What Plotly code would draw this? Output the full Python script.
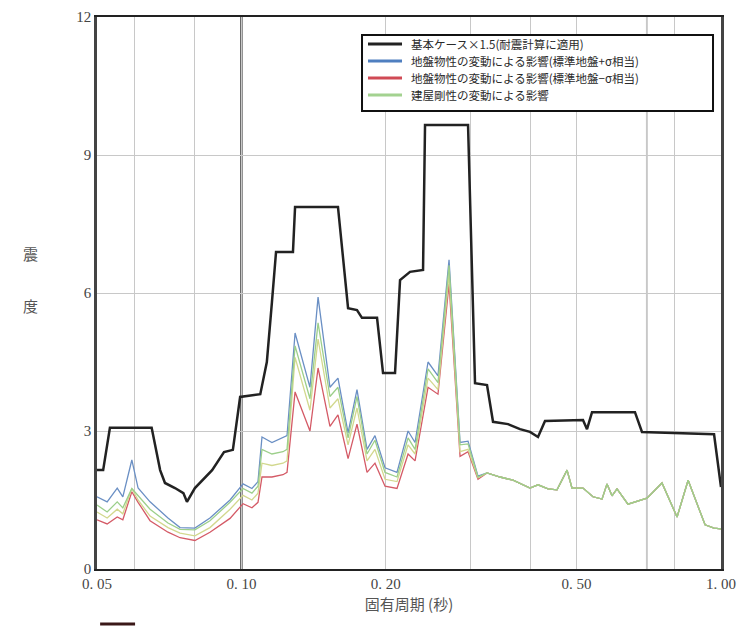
import plotly.graph_objects as go

# ---- data ----
period_base = [0.0500, 0.0515, 0.0532, 0.0650, 0.0677, 0.0693, 0.0727, 0.0757, 0.0770, 0.0800,
               0.0869, 0.0920, 0.0960, 0.0994, 0.1095, 0.1130, 0.1158, 0.1181, 0.1281, 0.1294,
               0.1590, 0.1669, 0.1742, 0.1784, 0.1918, 0.1974, 0.2091, 0.2142, 0.2247, 0.2392,
               0.2415, 0.2969, 0.3070, 0.3252, 0.3347, 0.3597, 0.3810, 0.3997, 0.4154, 0.4296,
               0.5155, 0.5256, 0.5384, 0.6616, 0.6843, 0.7943, 0.9672, 1.0000]
base_case = [2.15, 2.15, 3.07, 3.07, 2.15, 1.87, 1.76, 1.65, 1.46, 1.76,
             2.15, 2.54, 2.59, 3.74, 3.80, 4.50, 5.80, 6.89, 6.89, 7.87,
             7.87, 5.67, 5.63, 5.46, 5.46, 4.26, 4.26, 6.28, 6.46, 6.50,
             9.65, 9.65, 4.04, 4.00, 3.20, 3.15, 3.04, 2.98, 2.87, 3.22,
             3.24, 3.04, 3.41, 3.41, 2.98, 2.96, 2.93, 1.78]

period_var = [0.0500, 0.0525, 0.0551, 0.0566, 0.0591, 0.0609, 0.0645, 0.0703, 0.0745, 0.0800,
              0.0860, 0.0947, 0.1008, 0.1052, 0.1083, 0.1104, 0.1158, 0.1221, 0.1245, 0.1294,
              0.1390, 0.1445, 0.1530, 0.1590, 0.1669, 0.1742, 0.1828, 0.1899, 0.1993, 0.2111,
              0.2226, 0.2302, 0.2450, 0.2570, 0.2710, 0.2857, 0.2969, 0.3114,
              0.3252, 0.3462, 0.3685, 0.3997, 0.4154, 0.4359, 0.4551, 0.4775, 0.4890, 0.5155,
              0.5409, 0.5649, 0.5786, 0.5926, 0.6070, 0.6397, 0.7009, 0.7533, 0.8098, 0.8540,
              0.9263, 0.9672, 1.0000]
tail = [2.09, 2.00, 1.93, 1.76, 1.83, 1.74, 1.72, 2.15, 1.76, 1.76,
        1.57, 1.52, 1.85, 1.59, 1.74, 1.41, 1.54, 1.87, 1.13, 1.93,
        0.96, 0.89, 0.87]
soil_plus = [1.57, 1.46, 1.76, 1.57, 2.37, 1.76, 1.46, 1.11, 0.90, 0.89,
             1.11, 1.50, 1.85, 1.75, 1.90, 2.87, 2.75, 2.85, 2.90, 5.13,
             3.95, 5.91, 3.95, 4.15, 2.96, 3.90, 2.60, 2.90, 2.20, 2.10,
             3.00, 2.75, 4.50, 4.20, 6.72, 2.75, 2.78, 2.02] + tail
soil_minus = [1.07, 0.98, 1.13, 1.07, 1.68, 1.45, 1.05, 0.80, 0.68, 0.62,
              0.80, 1.10, 1.42, 1.33, 1.45, 2.00, 2.00, 2.05, 2.10, 3.85,
              3.00, 4.37, 3.10, 3.35, 2.40, 3.15, 2.10, 2.30, 1.80, 1.75,
              2.50, 2.35, 3.95, 3.80, 6.20, 2.45, 2.55, 1.95] + tail
stiff_a = [1.39, 1.24, 1.46, 1.33, 1.75, 1.60, 1.30, 1.00, 0.86, 0.85,
           1.05, 1.45, 1.75, 1.65, 1.80, 2.60, 2.50, 2.55, 2.60, 4.85,
           3.70, 5.35, 3.75, 3.95, 2.85, 3.75, 2.50, 2.80, 2.10, 2.00,
           2.85, 2.60, 4.35, 4.05, 6.60, 2.70, 2.72, 2.00] + tail
stiff_b = [1.24, 1.11, 1.30, 1.20, 1.75, 1.50, 1.15, 0.90, 0.78, 0.72,
           0.90, 1.30, 1.60, 1.50, 1.65, 2.30, 2.25, 2.30, 2.35, 4.60,
           3.45, 5.00, 3.50, 3.70, 2.70, 3.50, 2.35, 2.60, 1.95, 1.90,
           2.70, 2.50, 4.15, 3.90, 6.40, 2.55, 2.60, 1.98] + tail

x_tick_vals = [0.05, 0.1, 0.2, 0.5, 1.0]
x_tick_text = ["0. 05", "0. 10", "0. 20", "0. 50", "1. 00"]
x_minor_vals = [0.06, 0.08, 0.3, 0.4, 0.7, 0.8]
y_tick_vals = [0, 3, 6, 9, 12]

names = ["基本ケース×1.5(耐震計算に適用)",
         "地盤物性の変動による影響(標準地盤+σ相当)",
         "地盤物性の変動による影響(標準地盤−σ相当)",
         "建屋剛性の変動による影響"]
colors = ["#222222", "#4f7fc0", "#d04a55", "#a3d290"]

fig = go.Figure()
fig.add_trace(go.Scatter(x=period_var, y=soil_plus, mode="lines", name=names[1],
                         line=dict(color="#6a8fc4", width=1.3)))
fig.add_trace(go.Scatter(x=period_var, y=soil_minus, mode="lines", name=names[2],
                         line=dict(color="#d45a66", width=1.3)))
fig.add_trace(go.Scatter(x=period_var, y=stiff_b, mode="lines", name=names[3] + " (2)",
                         line=dict(color="#d2d88e", width=1.3)))
fig.add_trace(go.Scatter(x=period_var, y=stiff_a, mode="lines", name=names[3],
                         line=dict(color="#9ccf8a", width=1.3)))
fig.add_trace(go.Scatter(x=period_base, y=base_case, mode="lines", name=names[0],
                         line=dict(color="#222222", width=2.5)))

# darker reference lines
fig.add_vline(x=0.1, line=dict(color="#555555", width=2.5), layer="below")
fig.add_vline(x=0.7, line=dict(color="#999999", width=1.5), layer="below")

# stray short mark at bottom left
fig.add_shape(type="line", xref="paper", yref="paper", x0=0.005, x1=0.061,
              y0=-0.0996, y1=-0.0996, line=dict(color="#3a1818", width=3))

serif = "Liberation Serif, DejaVu Serif, serif"
cjk = "Noto Sans CJK JP"

# ---- legend box (drawn) ----
fig.add_shape(type="rect", xref="paper", yref="paper", x0=0.4247, x1=0.9872,
              y0=0.8297, y1=0.9674, line=dict(color="#111111", width=2),
              fillcolor="white", layer="above")
row_y = [0.9511, 0.9203, 0.8895, 0.8587]
for nm, col, yy in zip(names, colors, row_y):
    fig.add_shape(type="line", xref="paper", yref="paper", x0=0.4343, x1=0.4888,
                  y0=yy, y1=yy, line=dict(color=col, width=3), layer="above")
    fig.add_annotation(text=nm, xref="paper", yref="paper", x=0.5016, y=yy,
                       xanchor="left", yanchor="middle", showarrow=False, borderpad=0,
                       font=dict(family=cjk, size=11.5, color="#2a2a2a"))

fig.update_layout(
    width=740, height=633,
    margin=dict(l=97, r=19, t=17, b=64),
    paper_bgcolor="white", plot_bgcolor="white",
    showlegend=False,
    xaxis=dict(type="log", range=[-1.30103, 0], automargin=False,
               tickvals=x_tick_vals, ticktext=x_tick_text,
               tickfont=dict(family=serif, size=15, color="#444444"),
               showgrid=True, gridcolor="#c8c8c8", gridwidth=1,
               minor=dict(tickvals=x_minor_vals, showgrid=True, gridcolor="#c8c8c8",
                          gridwidth=1, ticks=""),
               showline=True, linecolor="#222222", linewidth=2, mirror=True,
               ticks="", zeroline=False,
               title=dict(text="固有周期 (秒)", font=dict(family=cjk, size=15, color="#555555"),
                          standoff=8)),
    yaxis=dict(range=[0, 12], tickvals=y_tick_vals, automargin=False,
               tickfont=dict(family=serif, size=15, color="#444444"),
               showgrid=True, gridcolor="#c8c8c8", gridwidth=1,
               showline=True, linecolor="#444444", linewidth=2.5, mirror=True,
               ticks="", zeroline=False),
)

fig.add_annotation(text="震", xref="paper", yref="paper", x=-0.106, y=0.572,
                   xanchor="center", yanchor="middle",
                   showarrow=False, font=dict(family=cjk, size=15, color="#555555"))
fig.add_annotation(text="度", xref="paper", yref="paper", x=-0.106, y=0.478,
                   xanchor="center", yanchor="middle",
                   showarrow=False, font=dict(family=cjk, size=15, color="#555555"))

fig.write_html("out.html", config={"displayModeBar": False},
               post_script="document.body.style.margin='0px';document.body.style.overflow='hidden';")
